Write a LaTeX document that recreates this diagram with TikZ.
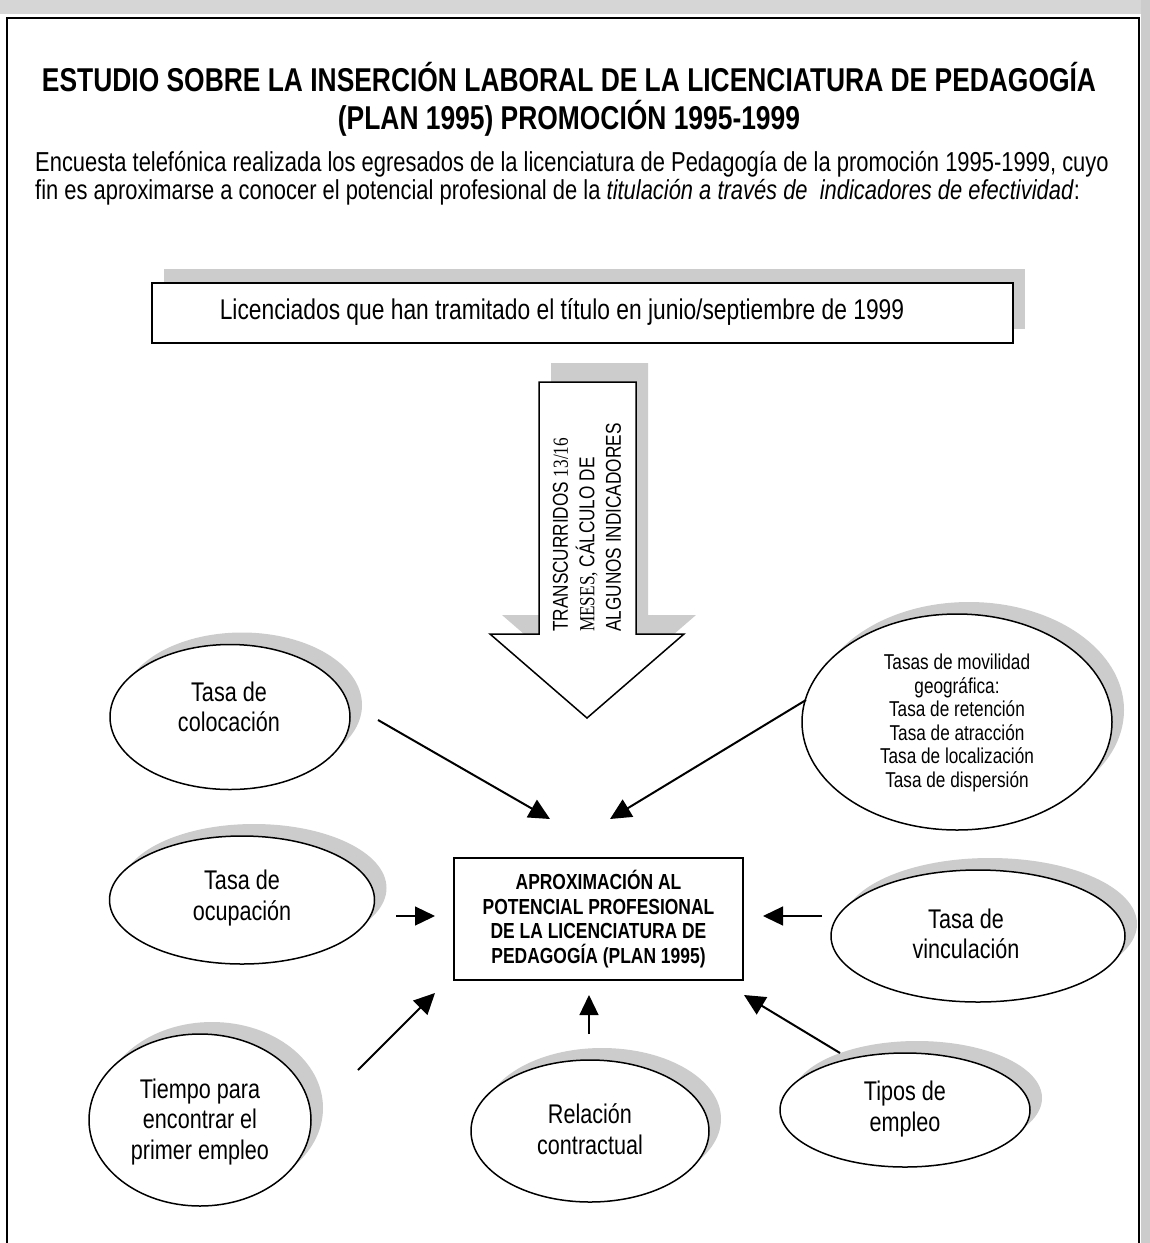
\documentclass[tikz,border=0pt]{standalone}
\usepackage{fontspec}
\setmainfont{Liberation Sans}[FakeStretch=0.80]
\newfontfamily\romanfont{Liberation Serif}[FakeStretch=0.80]
\usetikzlibrary{shapes.geometric,shadows,arrows.meta}
\definecolor{stipple}{gray}{0.80}
\definecolor{bandgray}{gray}{0.84}

\tikzset{
  frameline/.style={line width=1.4pt},
  oval/.style={ellipse, draw, line width=1.5pt, fill=white, inner sep=0pt,
    general shadow={draw=none, fill=stipple, shadow xshift=12pt, shadow yshift=12pt}},
  ovaltext/.style={align=center, inner sep=0pt, font=\fontsize{27}{30.5}\selectfont},
  smalltext/.style={align=center, inner sep=0pt, font=\fontsize{21.5}{23.5}\selectfont},
  bigarr/.style={line width=2pt, -{Triangle[length=21pt,width=20pt]}},
  thinarr/.style={line width=1.3pt, -{Triangle[length=20pt,width=19pt]}},
}

\begin{document}
\begin{tikzpicture}[x=1pt,y=-1pt]
\useasboundingbox (0,0) rectangle (1150,1243);
\fill[white] (0,0) rectangle (1150,1243);

% grey margins of the page and the outer frame
\fill[bandgray] (0,0) rectangle (1150,14);
\fill[stipple] (1141,0) rectangle (1150,1243);
\draw[frameline] (7,1250) -- (7,18) -- (1139,18) -- (1139,1250);

% heading
\node[align=center, inner sep=0pt, font=\fontsize{33}{38}\selectfont\bfseries] (title) at (569,99)
  {ESTUDIO SOBRE LA INSERCIÓN LABORAL DE LA LICENCIATURA DE PEDAGOGÍA\\(PLAN 1995) PROMOCIÓN 1995-1999};

% introduction
\node[align=left, anchor=west, inner sep=0pt, font=\fontsize{27.4}{27.5}\selectfont] (intro) at (35,178)
  {Encuesta telefónica realizada los egresados de la licenciatura de Pedagogía de la promoción 1995-1999, cuyo\\
   fin es aproximarse a conocer el potencial profesional de la \textit{titulación a través de\ \ indicadores de efectividad}:};

% population box
\node[draw, line width=1.4pt, fill=white, minimum width=861pt, minimum height=60pt, inner sep=0pt,
  general shadow={draw=none, fill=stipple, shadow xshift=12pt, shadow yshift=14pt}] (grads) at (582.5,313) {};
\node[inner sep=0pt, font=\fontsize{28.5}{30}\selectfont] (gradsT) at (562,312)
  {Licenciados que han tramitado el título en junio/septiembre de 1999};

% block arrow with its shadow
\fill[stipple] (551,363) -- (648,363) -- (648,615) -- (696,615) -- (599,699) -- (502,615) -- (551,615) -- cycle;
\draw[line width=1.5pt, fill=white] (539,382) -- (636,382) -- (636,634) -- (684,634) -- (587,718) -- (490,634) -- (539,634) -- cycle;
\node[rotate=90, anchor=west, align=left, inner sep=0pt, font=\fontsize{21.5}{26.5}\selectfont] (lapse) at (587,632)
  {TRANSCURRIDOS {\romanfont 13/16}\\{\romanfont MESES,} CÁLCULO DE\\ALGUNOS INDICADORES};

% indicators
\node[oval, minimum width=240pt, minimum height=145pt] (col) at (230,717) {};
\node[ovaltext] (colT) at (229,707) {Tasa de\\colocación};

\node[oval, minimum width=265pt, minimum height=128pt] (ocu) at (242,900) {};
\node[ovaltext] (ocuT) at (242,898) {Tasa de\\ocupación};

\node[oval, minimum width=222pt, minimum height=172pt] (tie) at (200,1120) {};
\node[ovaltext] (tieT) at (200,1122) {Tiempo para\\encontrar el\\primer empleo};

\node[oval, minimum width=238pt, minimum height=142pt] (rel) at (590,1131) {};
\node[ovaltext] (relT) at (590,1129) {Relación\\contractual};

\node[oval, minimum width=250pt, minimum height=114pt] (tip) at (905,1110) {};
\node[ovaltext] (tipT) at (905,1109) {Tipos de\\empleo};

\node[oval, minimum width=294pt, minimum height=132pt] (vin) at (978,936) {};
\node[ovaltext] (vinT) at (966,934) {Tasa de\\vinculación};

\node[oval, minimum width=310pt, minimum height=216pt] (mov) at (957,722) {};
\node[smalltext] (movT) at (957,723) {Tasas de movilidad\\geográfica:\\Tasa de retención\\Tasa de atracción\\Tasa de localización\\Tasa de dispersión};

% target
\node[draw, line width=1.5pt, fill=white, minimum width=289pt, minimum height=122pt, inner sep=0pt,
  align=center, font=\fontsize{21.8}{24.5}\selectfont\bfseries] (aim) at (598.5,919)
  {APROXIMACIÓN AL\\POTENCIAL PROFESIONAL\\DE LA LICENCIATURA DE\\PEDAGOGÍA (PLAN 1995)};

% connector ends
\coordinate (colA) at (378,720);  \coordinate (colB) at (550,819);
\coordinate (movA) at (806,700);  \coordinate (movB) at (610,819);
\coordinate (ocuA) at (396,916);  \coordinate (ocuB) at (435,916);
\coordinate (vinA) at (822,916);  \coordinate (vinB) at (763,916);
\coordinate (tieA) at (358,1070); \coordinate (tieB) at (435,993);
\coordinate (relA) at (589,1034); \coordinate (relB) at (589,995);
\coordinate (tipA) at (840,1053); \coordinate (tipB) at (744,995);

\draw[bigarr] (colA) -- (colB);
\draw[bigarr] (movA) -- (movB);
\draw[thinarr] (ocuA) -- (ocuB);
\draw[thinarr] (vinA) -- (vinB);
\draw[bigarr] (tieA) -- (tieB);
\draw[thinarr] (relA) -- (relB);
\draw[bigarr] (tipA) -- (tipB);
\end{tikzpicture}
\end{document}
